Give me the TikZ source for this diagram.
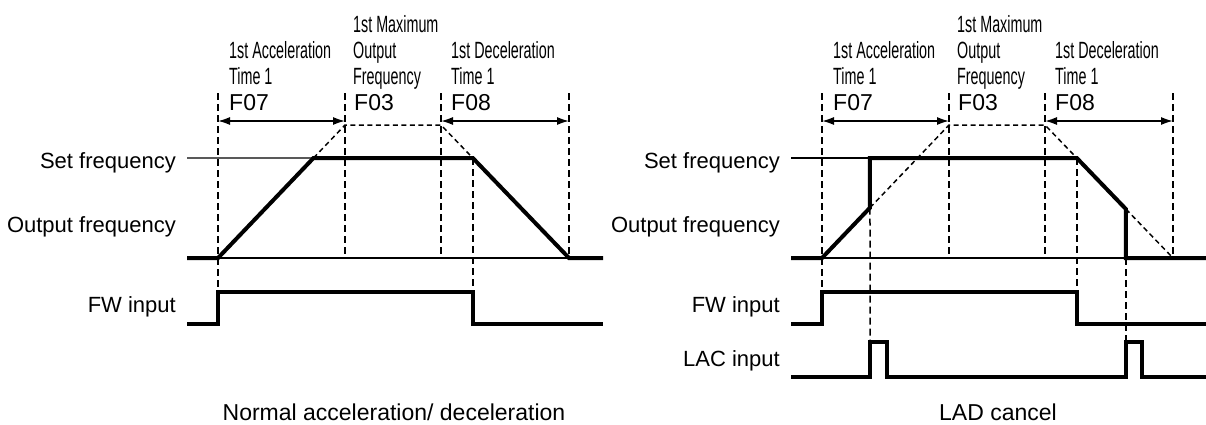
\documentclass[tikz,border=0pt]{standalone}
\usepackage{fontspec}
\setmainfont{Liberation Sans}
\newfontfamily\narrowfont[FakeStretch=0.61]{Liberation Sans}
\usetikzlibrary{arrows.meta, calc}

\begin{document}
\begin{tikzpicture}[
    x=1pt, y=-1pt,
    >={Latex[length=12pt, width=8pt]},
    signal/.style={line width=4pt, line join=miter},
    thinline/.style={line width=1.3pt},
    guide/.style={line width=1.5pt, dash pattern=on 7pt off 4pt},
    slope/.style={line width=1.5pt, dash pattern=on 5pt off 3.5pt},
    span/.style={<->, line width=1.6pt},
    lbl/.style={inner sep=0pt, font=\fontsize{22}{26}\selectfont},
    caption/.style={inner sep=0pt, font=\fontsize{23}{26}\selectfont},
    param/.style={inner sep=0pt, align=left, font=\narrowfont\fontsize{23.5}{26}\selectfont},
    code/.style={inner sep=0pt, font=\fontsize{23}{26}\selectfont},
]
\useasboundingbox (0,0) rectangle (1206,424);

% === Normal acceleration / deceleration ===
\coordinate (nA) at (218,258);
\coordinate (nAt) at (345,125);
\coordinate (nD) at (441,125);
\coordinate (nDb) at (569,258);
\coordinate (nS) at (187,158);
\coordinate (nSe) at (603,158);
\coordinate (nUp) at (intersection of nA--nAt and nS--nSe);
\coordinate (nDn) at (intersection of nD--nDb and nS--nSe);

% Signal labels
\node (nset) [lbl, anchor=base east] at (176,168) {Set frequency};
\node (nout) [lbl, anchor=base east] at (176,232) {Output frequency};
\node (nfw) [lbl, anchor=base east] at (176,312) {FW input};

% Parameter labels
\node (nacc) [param, anchor=base west] at (229,84) {1st Acceleration\\Time 1};
\node (nmax) [param, anchor=base west] at (353,84) {1st Maximum\\Output\\Frequency};
\node (ndec) [param, anchor=base west] at (451,84) {1st Deceleration\\Time 1};
\node (nf07) [code, anchor=base west] at (229,110) {F07};
\node (nf03) [code, anchor=base west] at (354,110) {F03};
\node (nf08) [code, anchor=base west] at (451,110) {F08};

% Guides
\draw[guide] (218,93) -- (218,292);
\draw[guide] (345,93) -- (345,258);
\draw[guide] (441,93) -- (441,258);
\draw[guide] (473,158) -- (473,292);
\draw[guide] (569,93) -- (569,258);
\draw[slope] (nUp) -- (nAt) -- (nD) -- (nDn);

% Time spans
\draw[span] (218,121) -- (345,121);
\draw[span] (441,121) -- (569,121);

% Waveforms
\draw[thinline] (nS) -- (nUp);
\draw[thinline] (nA) -- (nDb);
\draw[signal] (187,258) -- (nA) -- (nUp) -- (nDn) -- (nDb) -- (603,258);
\draw[signal] (187,324) -- (218,324) -- (218,292) -- (473,292) -- (473,324) -- (603,324);

\node (ncap) [caption, anchor=base] at (394,420) {Normal acceleration/ deceleration};

% === LAD cancel ===
\begin{scope}[xshift=604pt]
\coordinate (cA) at (218,258);
\coordinate (cAt) at (345,125);
\coordinate (cD) at (441,125);
\coordinate (cDb) at (569,258);
\coordinate (cS) at (187,158);
\coordinate (cSe) at (603,158);
\coordinate (cJ) at (intersection of cA--cAt and 266,100--266,300);
\coordinate (cDn) at (intersection of cD--cDb and cS--cSe);
\coordinate (cK) at (intersection of cD--cDb and 522,100--522,300);

% Signal labels
\node (cset) [lbl, anchor=base east] at (176,168) {Set frequency};
\node (cout) [lbl, anchor=base east] at (176,232) {Output frequency};
\node (cfw) [lbl, anchor=base east] at (176,312) {FW input};
\node (clac) [lbl, anchor=base east] at (176,366) {LAC input};

% Parameter labels
\node (cacc) [param, anchor=base west] at (229,84) {1st Acceleration\\Time 1};
\node (cmax) [param, anchor=base west] at (353,84) {1st Maximum\\Output\\Frequency};
\node (cdec) [param, anchor=base west] at (451,84) {1st Deceleration\\Time 1};
\node (cf07) [code, anchor=base west] at (229,110) {F07};
\node (cf03) [code, anchor=base west] at (354,110) {F03};
\node (cf08) [code, anchor=base west] at (451,110) {F08};

% Guides
\draw[guide] (218,93) -- (218,292);
\draw[guide] (345,93) -- (345,258);
\draw[guide] (441,93) -- (441,258);
\draw[guide] (473,158) -- (473,292);
\draw[guide] (569,93) -- (569,258);
\draw[guide] (cJ) -- (266,342);
\draw[guide] (522,258) -- (522,342);
\draw[slope] (cJ) -- (cAt) -- (cD) -- (cDn);
\draw[slope] (cK) -- (cDb);

% Time spans
\draw[span] (218,121) -- (345,121);
\draw[span] (441,121) -- (569,121);

% Waveforms
\draw[thinline] (cS) -- (cJ |- cS);
\draw[thinline] (cA) -- (cK |- cA);
\draw[signal] (187,258) -- (cA) -- (cJ) -- (cJ |- cS) -- (cDn) -- (cK) -- (cK |- cA) -- (603,258);
\draw[signal] (187,324) -- (218,324) -- (218,292) -- (473,292) -- (473,324) -- (603,324);
\draw[signal] (187,377) -- (266,377) -- (266,342) -- (283,342) -- (283,377)
    -- (522,377) -- (522,342) -- (538,342) -- (538,377) -- (603,377);

\node (ccap) [caption, anchor=base] at (394,420) {LAD cancel};
\end{scope}

\end{tikzpicture}
\end{document}
